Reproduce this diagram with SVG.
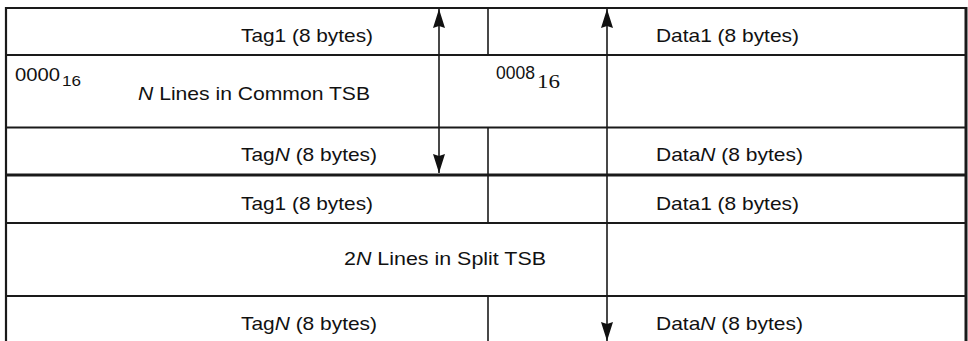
<svg xmlns="http://www.w3.org/2000/svg" width="968" height="341" viewBox="0 0 968 341">
<style>
.ln{stroke:#1a1a1a;fill:none}
.t{font-family:"Liberation Sans",Arial,sans-serif;font-size:18.5px;fill:#111}
.i{font-style:italic}
.s{font-family:"Liberation Serif","Times New Roman",serif;font-size:19px;fill:#111}
</style>
<defs>
<marker id="ah" markerUnits="userSpaceOnUse" markerWidth="20" markerHeight="13" refX="19" refY="6" orient="auto-start-reverse" viewBox="0 0 20 12">
<path d="M0,0 L19,6 L0,12 L2,6 Z" fill="#111"/>
</marker>
</defs>
<rect width="968" height="341" fill="#fff"/>
<g id="frame">
<line class="ln" x1="6" y1="8" x2="967" y2="8" stroke-width="2.2"/>
<line class="ln" x1="6" y1="7" x2="6" y2="341" stroke-width="2.2"/>
<line class="ln" x1="966" y1="7" x2="966" y2="341" stroke-width="3"/>
<line class="ln" x1="6" y1="55" x2="966" y2="55" stroke-width="2"/>
<line class="ln" x1="6" y1="127.5" x2="966" y2="127.5" stroke-width="2"/>
<line class="ln" x1="6" y1="175" x2="966" y2="175" stroke-width="3"/>
<line class="ln" x1="6" y1="223" x2="966" y2="223" stroke-width="2"/>
<line class="ln" x1="6" y1="296" x2="966" y2="296" stroke-width="2"/>
<line class="ln" x1="488" y1="8" x2="488" y2="55" stroke-width="1.6"/>
<line class="ln" x1="488" y1="127" x2="488" y2="223" stroke-width="1.6"/>
<line class="ln" x1="488" y1="296" x2="488" y2="341" stroke-width="1.6"/>
</g>
<g id="common-tsb">
<text class="t" x="241" y="42" textLength="132" lengthAdjust="spacingAndGlyphs">Tag1 (8 bytes)</text>
<text class="t" x="656" y="42" textLength="143" lengthAdjust="spacingAndGlyphs">Data1 (8 bytes)</text>
<text class="t" x="15" y="81" textLength="45" lengthAdjust="spacingAndGlyphs">0000</text>
<text class="t" x="62" y="86" style="font-size:15px" textLength="19" lengthAdjust="spacingAndGlyphs">16</text>
<text class="t" x="138" y="100" textLength="232" lengthAdjust="spacingAndGlyphs"><tspan class="i">N</tspan> Lines in Common TSB</text>
<text class="t" x="496" y="79" textLength="39" lengthAdjust="spacingAndGlyphs">0008</text>
<text class="s" x="537" y="88" textLength="23" lengthAdjust="spacingAndGlyphs">16</text>
<text class="t" x="241" y="161" textLength="136" lengthAdjust="spacingAndGlyphs">Tag<tspan class="i">N</tspan> (8 bytes)</text>
<text class="t" x="656" y="161" textLength="147" lengthAdjust="spacingAndGlyphs">Data<tspan class="i">N</tspan> (8 bytes)</text>
</g>
<g id="split-tsb">
<text class="t" x="241" y="210" textLength="132" lengthAdjust="spacingAndGlyphs">Tag1 (8 bytes)</text>
<text class="t" x="656" y="210" textLength="143" lengthAdjust="spacingAndGlyphs">Data1 (8 bytes)</text>
<text class="t" x="344" y="265" textLength="202" lengthAdjust="spacingAndGlyphs">2<tspan class="i">N</tspan> Lines in Split TSB</text>
<text class="t" x="241" y="330" textLength="136" lengthAdjust="spacingAndGlyphs">Tag<tspan class="i">N</tspan> (8 bytes)</text>
<text class="t" x="656" y="330" textLength="147" lengthAdjust="spacingAndGlyphs">Data<tspan class="i">N</tspan> (8 bytes)</text>
</g>
<g id="connectors">
<line class="ln" x1="439" y1="9" x2="439" y2="173" stroke-width="1.6" marker-start="url(#ah)" marker-end="url(#ah)"/>
<line class="ln" x1="607" y1="9" x2="607" y2="341" stroke-width="1.6" marker-start="url(#ah)" marker-end="url(#ah)"/>
</g>
</svg>
